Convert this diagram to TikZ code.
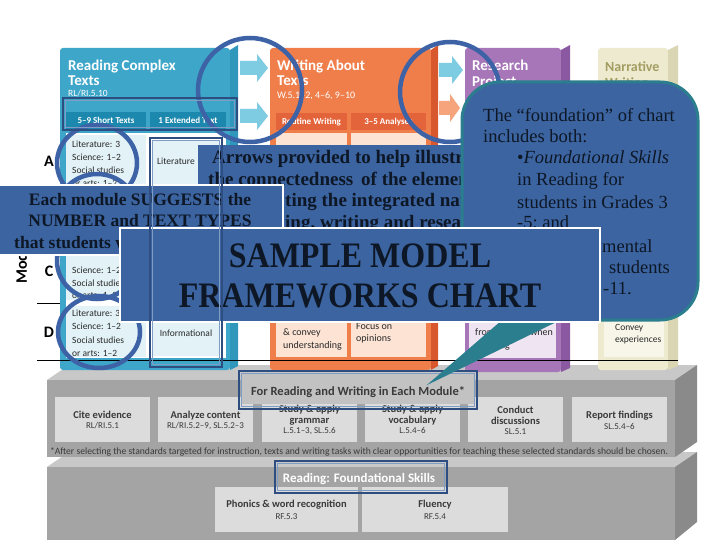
\documentclass[tikz,border=0pt]{standalone}
\usepackage{fontspec}
\usepackage{graphicx}
\setmainfont{Liberation Serif}
\newfontfamily\chartf{Carlito}
\newcommand\myfs[1]{\fontsize{#1}{#1}\selectfont}
\definecolor{ovblue}{HTML}{3B64A0}
\definecolor{circc}{HTML}{3D62A6}
\definecolor{callb}{HTML}{2B7E8E}
\definecolor{hlout}{HTML}{2E4D80}
\definecolor{hlin}{HTML}{7E9CC4}
\definecolor{tealA}{HTML}{3DA6C9}
\definecolor{tealB}{HTML}{1C88AD}
\definecolor{tealS}{HTML}{2F96BC}
\definecolor{cellC}{HTML}{E2F2F7}
\definecolor{orgA}{HTML}{EF7E4B}
\definecolor{orgB}{HTML}{E3643A}
\definecolor{orgS}{HTML}{D9572C}
\definecolor{peach}{HTML}{FCE3D4}
\definecolor{purA}{HTML}{A676B8}
\definecolor{purS}{HTML}{8B58A2}
\definecolor{lav}{HTML}{EEE4F2}
\definecolor{begA}{HTML}{EEEAD0}
\definecolor{begS}{HTML}{DAD5B2}
\definecolor{begC}{HTML}{F8F6E9}
\definecolor{olive}{HTML}{A39D62}
\definecolor{gTop}{HTML}{C8C8C8}
\definecolor{gFront}{HTML}{A4A4A4}
\definecolor{gSide}{HTML}{8A8A8A}
\definecolor{gBox}{HTML}{DCDCDC}
\definecolor{gBand}{HTML}{C2C2C2}
\definecolor{gTxt}{HTML}{3A3A3A}
\definecolor{arrC}{HTML}{7ECCE1}
\definecolor{arrO}{HTML}{F6A47B}
\definecolor{darktxt}{HTML}{0E1726}
\definecolor{celltxt}{HTML}{2A2A2A}
\newcommand\hlrect[4]{%
  \draw[hl] (#1,#2) rectangle (#3,#4);
  \draw[hli] (#1+2.6,#2+2.6) rectangle (#3-2.6,#4-2.6);}
\begin{document}
\begin{tikzpicture}[x=1pt,y=-1pt,
  lbl/.style={inner sep=0pt, anchor=base west},
  lblc/.style={inner sep=0pt, anchor=base},
  lble/.style={inner sep=0pt, anchor=base east},
  gbox/.style={fill=gBox},
  gtitle/.style={lblc, font=\chartf\bfseries\myfs{10.5}, text=gTxt},
  gcode/.style={lblc, font=\chartf\myfs{9}, text=gTxt},
  celltext/.style={lbl, font=\chartf\myfs{9.5}, text=celltxt},
  coltitle/.style={lbl, font=\chartf\bfseries\myfs{15}, text=white},
  tabtext/.style={lblc, font=\chartf\bfseries\myfs{9}, text=white},
  rowlab/.style={lblc, font=\chartf\bfseries\myfs{16}, text=black},
  ovbox/.style={fill=ovblue, draw=white, line width=1.2pt},
  circ/.style={draw=circc, line width=4.5pt},
  hl/.style={draw=hlout, line width=2.6pt},
  hli/.style={draw=hlin, line width=0.8pt},
  ovtext/.style={font=\bfseries\myfs{19}, text=darktxt},
  calltext/.style={lbl, font=\myfs{18.5}, text=darktxt},
]
\useasboundingbox (0,0) rectangle (720,540);
\fill[white] (0,0) rectangle (720,540);

% ---------- lower platform (foundational skills)
\fill[gTop] (47,467) -- (69,452) -- (697,452) -- (675,467) -- cycle;
\fill[gFront] (47,467) rectangle (675,540);
\fill[gSide] (675,467) -- (697,452) -- (697,522) -- (675,540) -- cycle;
% ---------- upper platform (each module)
\fill[gTop] (47,380) -- (69,365) -- (697,365) -- (675,380) -- cycle;
\fill[gFront] (47,380) rectangle (675,457);
\fill[gSide] (675,380) -- (697,365) -- (697,442) -- (675,457) -- cycle;

% boxes upper platform
\fill[gbox] (55,397) rectangle (150,442);
\fill[gbox] (158,397) rectangle (253,442);
\fill[gbox] (262,397) rectangle (357,442);
\fill[gbox] (365,397) rectangle (460,442);
\fill[gbox] (468,397) rectangle (563,442);
\fill[gbox] (572,397) rectangle (667,442);
\node[gtitle] (b1t) at (102.5,418) {Cite evidence};
\node[gcode] (b1c) at (102.5,428) {RL/RI.5.1};
\node[gtitle] (b2t) at (205.5,418) {Analyze content};
\node[gcode] (b2c) at (205.5,428) {RL/RI.5.2–9, SL.5.2–3};
\node[gtitle] (b3a) at (309.5,412) {Study \& apply};
\node[gtitle] (b3t) at (309.5,423) {grammar};
\node[gcode] (b3c) at (309.5,433) {L.5.1–3, SL.5.6};
\node[gtitle] (b4a) at (412.5,412) {Study \& apply};
\node[gtitle] (b4t) at (412.5,423) {vocabulary};
\node[gcode] (b4c) at (412.5,433) {L.5.4–6};
\node[gtitle] (b5a) at (515.5,413) {Conduct};
\node[gtitle] (b5t) at (515.5,424) {discussions};
\node[gcode] (b5c) at (515.5,434) {SL.5.1};
\node[gtitle] (b6t) at (619.5,418) {Report findings};
\node[gcode] (b6c) at (619.5,429) {SL.5.4–6};
\fill[gBand] (241,373) rectangle (475,404);
\node[lblc, font=\chartf\bfseries\myfs{12.5}, text=gTxt] (hdr1) at (358,395) {For Reading and Writing in Each Module*};
\node[lblc, text=gTxt] (fn) at (359,454) {\resizebox{618pt}{!}{\chartf\myfs{8}*After selecting the standards targeted for instruction, texts and writing tasks with clear opportunities for teaching these selected standards should be chosen.}};

% boxes lower platform
\fill[gbox] (215,487) rectangle (358,532);
\fill[gbox] (362,487) rectangle (508,532);
\node[lblc, font=\chartf\bfseries\myfs{13}, text=white] (hdr2) at (359,482) {Reading: Foundational Skills};
\node[gtitle] (p1t) at (286.5,507) {Phonics \& word recognition};
\node[gcode] (p1c) at (286.5,519) {RF.5.3};
\node[gtitle] (p2t) at (435,507) {Fluency};
\node[gcode] (p2c) at (435,519) {RF.5.4};

% ---------- row lines (behind columns)
\draw[line width=0.6pt] (37,303) -- (680,303);

% ---------- teal column: Reading Complex Texts
\fill[tealA, rounded corners=3] (60,48) rectangle (230,370);
\fill[tealS] (230,50) -- (238,45) -- (238,366) -- (230,370) -- cycle;
\fill[tealB] (66,112) rectangle (146,129);
\fill[tealB] (150,112) rectangle (226,129);
\node[tabtext] (tab1) at (106,124) {5–9 Short Texts};
\node[tabtext] (tab2) at (188,124) {1 Extended Text};
\node[coltitle] (rct1) at (68,71) {Reading Complex};
\node[coltitle] (rct2) at (68,86) {Texts};
\node[lbl, font=\chartf\myfs{9.5}, text=white] (rct3) at (68,97) {RL/RI.5.10};
\fill[white] (66,133) rectangle (226,358);
\fill[cellC] (66,135) rectangle (146,190);
\fill[cellC] (66,193) rectangle (146,247);
\fill[cellC] (66,250) rectangle (146,300);
\fill[cellC] (66,306) rectangle (146,357);
\fill[cellC] (152,140) rectangle (220,190);
\fill[cellC] (152,303) rectangle (220,356);
\node[celltext] (a1) at (72,148) {Literature: 3};
\node[celltext] (a2) at (72,161) {Science: 1–2};
\node[celltext] (a3) at (72,174) {Social studies};
\node[celltext] (a4) at (72,187) {or arts: 1–2};
\node[celltext] (c2) at (72,273) {Science: 1–2};
\node[celltext] (c3) at (72,286) {Social studies};
\node[celltext] (c4) at (72,298) {or arts: 1–2};
\node[celltext] (d1) at (72,316) {Literature: 3};
\node[celltext] (d2) at (72,329) {Science: 1–2};
\node[celltext] (d3) at (72,343) {Social studies};
\node[celltext] (d4) at (72,356) {or arts: 1–2};
\node[celltext] (lit) at (157,165) {Literature};
\node[lblc, font=\chartf\myfs{9.5}, text=celltxt] (inf) at (186,336) {Informational};

% ---------- orange column: Writing About Texts
\fill[orgA, rounded corners=3] (270,48) rectangle (431,370);
\fill[orgS] (431,50) -- (438,45) -- (438,366) -- (431,370) -- cycle;
\fill[orgB] (276,113) rectangle (347,130);
\fill[orgB] (351,113) rectangle (426,130);
\fill[peach] (276,133) rectangle (347,357);
\fill[peach] (351,133) rectangle (426,357);
\node[coltitle] (wat1) at (277,71) {Writing About};
\node[coltitle] (wat2) at (277,86) {Texts};
\node[lbl, font=\chartf\myfs{10}, text=white] (wat3) at (277,99) {W.5.1–2, 4–6, 9–10};
\node[tabtext] (tab3) at (311.5,125) {Routine Writing};
\node[tabtext] (tab4) at (388.5,125) {3–5 Analyses};
\node[lbl, font=\chartf\myfs{10}, text=celltxt] (o1) at (283,335) {\& convey};
\node[lbl, font=\chartf\myfs{10}, text=celltxt] (o2) at (283,348) {understanding};
\node[lbl, font=\chartf\myfs{10}, text=celltxt] (o3) at (356,329) {Focus on};
\node[lbl, font=\chartf\myfs{10}, text=celltxt] (o4) at (356,341) {opinions};

% ---------- purple column: Research Project
\fill[purA, rounded corners=3] (465,48) rectangle (561,372);
\fill[purS] (561,50) -- (570,45) -- (570,368) -- (561,372) -- cycle;
\fill[lav] (469,133) rectangle (556,358);
\node[coltitle] (rp1) at (472,71) {Research};
\node[coltitle] (rp2) at (472,87) {Project};
\node[lbl, font=\chartf\myfs{10}, text=celltxt] (pu1) at (475,335) {from sources when};
\node[lble, font=\chartf\myfs{10}, text=celltxt] (pu2) at (510,348) {writing};

% ---------- beige column: Narrative Writing
\fill[begA, rounded corners=3] (598,48) rectangle (668,370);
\fill[begS] (668,50) -- (678,45) -- (678,366) -- (668,370) -- cycle;
\fill[begC] (604,133) rectangle (664,357);
\node[lbl, font=\chartf\bfseries\myfs{14}, text=olive] (nw1) at (605,72) {Narrative};
\node[lbl, font=\chartf\bfseries\myfs{14}, text=olive] (nw2) at (605,88) {Writing};
\node[lbl, font=\chartf\myfs{9.5}, text=celltxt] (be1) at (615,330) {Convey};
\node[lbl, font=\chartf\myfs{9.5}, text=celltxt] (be2) at (615,342) {experiences};

% bottom line
\draw[line width=0.7pt] (37,360) -- (678,360);

% row labels
\node[rowlab] (rA) at (49,167) {A};
\node[rowlab] (rC) at (49,276) {C};
\node[rowlab] (rD) at (49,337) {D};
\node[lbl, rotate=90, font=\chartf\bfseries\myfs{16}, text=black] (mods) at (27,284) {Modules};

% arrows between columns
\fill[arrC] (240,61) -- (257,61) -- (257,54) -- (268,68) -- (257,82) -- (257,75) -- (240,75) -- cycle;
\fill[arrC] (240,109) -- (257,109) -- (257,102) -- (268,116) -- (257,130) -- (257,123) -- (240,123) -- cycle;
\fill[arrC] (439,63) -- (452,63) -- (452,56) -- (463,70) -- (452,84) -- (452,77) -- (439,77) -- cycle;
\fill[arrO] (439,101) -- (450,101) -- (450,94) -- (460,108) -- (450,122) -- (450,115) -- (439,115) -- cycle;

% ---------- circles
\draw[circ] (250,90) circle (52);
\draw[circ] (450,92) circle (50);
\draw[circ] (97,163) ellipse [x radius=40, y radius=38];
\draw[circ] (97,212) ellipse [x radius=40, y radius=38];
\draw[circ] (97,261) ellipse [x radius=40, y radius=38];
\draw[circ] (99,332) ellipse [x radius=41, y radius=36];

% highlight rectangles on the platforms
\hlrect{239}{371}{477}{409}
\hlrect{275}{461}{447}{493}

% ---------- "Arrows" box
\fill[ovblue] (198,145) rectangle (480,240);
\begin{scope}
\clip (198,145) rectangle (461,240);
\node[lbl, ovtext] (ar1) at (212,164) {Arrows provided to help illustrate};
\node[lbl, ovtext] (ar2) at (208,185.5) {the connectedness\, of the elements};
\node[lbl, ovtext] (ar3) at (285,207) {ting the integrated nature};
\node[lbl, ovtext] (ar4) at (285,228.5) {ing, writing and research};
\end{scope}

% ---------- callout
\filldraw[fill=ovblue, draw=callb, line width=3pt, rounded corners=38] (462,82) rectangle (698,320);
\filldraw[fill=callb, draw=callb, line width=2pt, line join=miter] (521,305) -- (433,381) -- (589,305);
\node[calltext] (cl1) at (483,122) {The “foundation” of chart};
\node[calltext] (cl2) at (483,143) {includes both:};
\node[calltext] (cl3) at (517,164) {•\textit{Foundational Skills}};
\node[calltext] (cl4) at (517,186) {in Reading for};
\node[calltext] (cl5) at (517,208) {students in Grades 3};
\node[calltext] (cl6) at (517,229) {-5; and};
\node[calltext] (cl7) at (602,252) {mental};
\node[calltext] (cl8) at (609,273) {students};
\node[calltext] (cl9) at (603,294) {-11.};

% ---------- "Each module" box
\filldraw[ovbox] (-5,185) rectangle (283,255);
\node[lblc, font=\bfseries\myfs{17.5}, text=darktxt] (em1) at (140,206) {Each module SUGGESTS the};
\node[lblc, font=\bfseries\myfs{17.5}, text=darktxt] (em2) at (140,226) {NUMBER and TEXT TYPES};
\node[lbl, font=\bfseries\myfs{17.5}, text=darktxt] (em3) at (14,248) {that students will read};

% ---------- SAMPLE box
\filldraw[ovbox] (120,228) rectangle (600,322);
\node[lblc, font=\bfseries\myfs{32}, text=darktxt] (s1) at (360,267) {\scalebox{1}[1.12]{SAMPLE MODEL}};
\node[lblc, font=\bfseries\myfs{32}, text=darktxt] (s2) at (360,307) {\scalebox{1}[1.12]{FRAMEWORKS CHART}};

% ---------- highlight rectangles on top
\hlrect{63}{98}{237}{130}
\hlrect{150}{138}{222}{367}
\end{tikzpicture}
\end{document}
